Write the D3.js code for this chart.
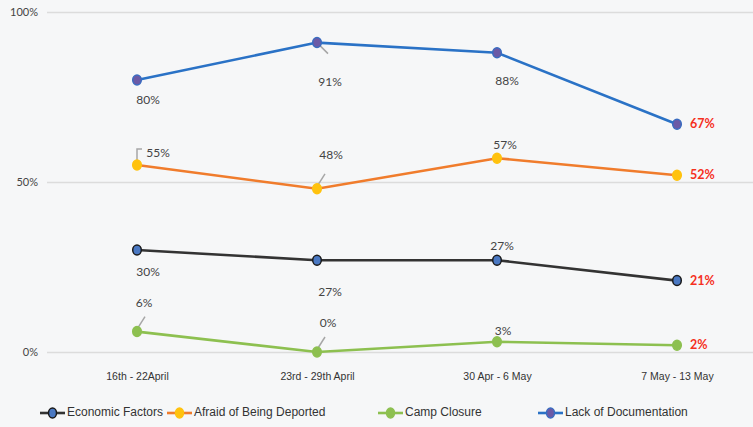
<!DOCTYPE html>
<html><head><meta charset="utf-8">
<script src="https://cdn.jsdelivr.net/npm/d3@7"></script>
<style>
html,body{margin:0;padding:0;background:#f6f7f8;}
svg{display:block;}
</style></head>
<body><svg id="c" width="753" height="427"></svg>
<script>
const categories = ["16th - 22April", "23rd - 29th April", "30 Apr - 6 May", "7 May - 13 May"];
const economic = [30, 27, 27, 21];
const deported = [55, 48, 57, 52];
const camp = [6, 0, 3, 2];
const documentation = [80, 91, 88, 67];
const yTicks = [0, 50, 100];
const seriesNames = ["Economic Factors", "Afraid of Being Deported", "Camp Closure", "Lack of Documentation"];

const series = [
  {name: seriesNames[0], values: economic, line: "#333333", fill: "#4a78c2", stroke: "#1a1a1a",
   labels: [{dx: 11, dy: 23}, {dx: 13, dy: 33}, {dx: 5, dy: -13}, null]},
  {name: seriesNames[1], values: deported, line: "#f07c2c", fill: "#ffc20e", stroke: "#ffc20e",
   labels: [{dx: 21, dy: -11, leader: "bracket"}, {dx: 14, dy: -33, leader: "diag"}, {dx: 8, dy: -12}, null]},
  {name: seriesNames[2], values: camp, line: "#8dc050", fill: "#8dc050", stroke: "#8dc050",
   labels: [{dx: 7, dy: -28, leader: "diag"}, {dx: 11, dy: -28, leader: "diag"}, {dx: 6, dy: -10}, null]},
  {name: seriesNames[3], values: documentation, line: "#2a72c6", fill: "#6b5aa6", stroke: "#3a6cc0",
   labels: [{dx: 11, dy: 21}, {dx: 13, dy: 40, leader: "diag2"}, {dx: 10, dy: 29}, null]}
];

const svg = d3.select("#c");
const x = d3.scalePoint().domain(categories).range([137, 677]);
const y = d3.scaleLinear().domain([0, 100]).range([352, 12]);

// gridlines
const yAxis = d3.axisLeft(y).tickValues(yTicks).tickSize(-(753 - 47)).tickFormat(d => d + "%").tickPadding(9);
const gy = svg.append("g").attr("transform", "translate(47,0)").call(yAxis);
gy.select(".domain").remove();
gy.selectAll(".tick line").attr("stroke", "#dcdcdc").attr("stroke-width", 1.5);
gy.selectAll(".tick text").attr("fill", "#444").style("font-family", "Lato, 'Open Sans', sans-serif").style("font-size", "11px");

// x axis labels
const xAxis = d3.axisBottom(x).tickSize(0).tickPadding(0);
const gx = svg.append("g").attr("transform", "translate(0,373)").call(xAxis);
gx.select(".domain").remove();
gx.selectAll(".tick text").attr("fill", "#333")
  .style("font-family", "'Liberation Sans Narrow', 'Liberation Sans', sans-serif").style("font-size", "10.5px");

const line = d3.line().x((d, i) => x(categories[i])).y(d => y(d));

series.forEach(s => {
  const g = svg.append("g");
  g.append("path").datum(s.values).attr("d", line).attr("fill", "none")
    .attr("stroke", s.line).attr("stroke-width", 2.6);
  // leader lines
  s.values.forEach((v, i) => {
    const lb = s.labels[i];
    if (!lb || !lb.leader) return;
    const px = x(categories[i]), py = y(v);
    if (lb.leader === "bracket") {
      g.append("path").attr("d", `M${px},${py - 5} L${px},${py - 16} L${px + 5},${py - 16}`)
        .attr("fill", "none").attr("stroke", "#a6a6a6").attr("stroke-width", 1.5);
    } else if (lb.leader === "diag") {
      g.append("line").attr("x1", px + 1).attr("y1", py - 4).attr("x2", px + 8).attr("y2", py - 15)
        .attr("stroke", "#a6a6a6").attr("stroke-width", 1.5);
    } else if (lb.leader === "diag2") {
      g.append("line").attr("x1", px + 2).attr("y1", py + 2).attr("x2", px + 11).attr("y2", py + 11)
        .attr("stroke", "#a6a6a6").attr("stroke-width", 1.5);
    }
  });
  g.selectAll("ellipse").data(s.values).join("ellipse")
    .attr("cx", (d, i) => x(categories[i])).attr("cy", d => y(d))
    .attr("rx", 4.3).attr("ry", 5)
    .attr("fill", s.fill).attr("stroke", s.stroke).attr("stroke-width", 1.5);
  // labels
  s.values.forEach((v, i) => {
    const lb = s.labels[i];
    const px = x(categories[i]), py = y(v);
    if (lb) {
      g.append("text").attr("x", px + lb.dx).attr("y", py + lb.dy).attr("text-anchor", "middle")
        .attr("dominant-baseline", "middle")
        .attr("fill", "#444").style("font-family", "Lato, 'Open Sans', sans-serif").style("font-size", "12px")
        .text(v + "%");
    } else {
      g.append("text").attr("x", px + 13).attr("y", py + 1).attr("dominant-baseline", "middle")
        .attr("fill", "#f5301e").style("font-family", "Lato, 'Open Sans', sans-serif")
        .style("font-size", "12.5px").style("font-weight", "bold")
        .text(v + "%");
    }
  });
});

// legend
const legendX = [40, 167, 378, 538];
const lg = svg.append("g").attr("transform", "translate(0,413)");
series.forEach((s, i) => {
  const g = lg.append("g").attr("transform", `translate(${legendX[i]},0)`);
  g.append("line").attr("x1", 0).attr("x2", 25).attr("y1", 0).attr("y2", 0)
    .attr("stroke", s.line).attr("stroke-width", 2.6);
  g.append("ellipse").attr("cx", 12.5).attr("cy", 0).attr("rx", 4).attr("ry", 5)
    .attr("fill", s.fill).attr("stroke", s.stroke).attr("stroke-width", 1.5);
  g.append("text").attr("x", 27).attr("y", 0).attr("dominant-baseline", "middle")
    .attr("fill", "#333").style("font-family", "'Liberation Sans Narrow', 'Liberation Sans', sans-serif")
    .style("font-size", "12px").text(s.name);
});
</script></body></html>
